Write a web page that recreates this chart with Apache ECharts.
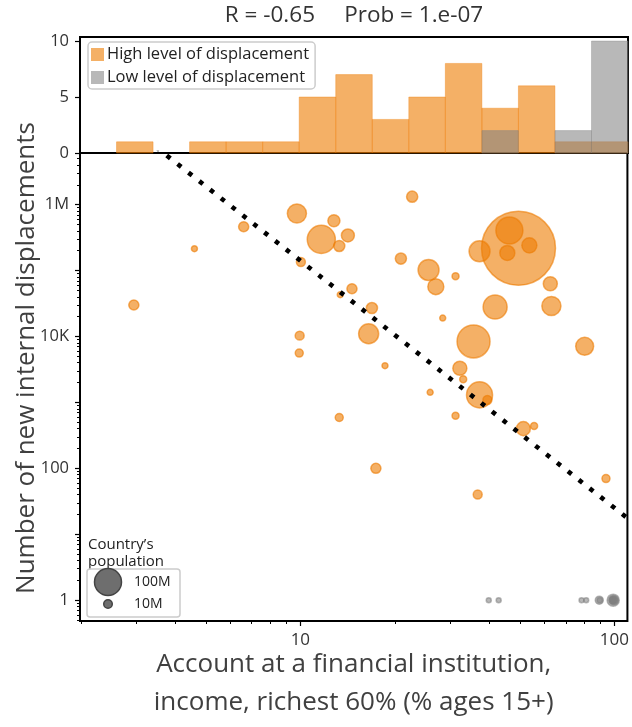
<!DOCTYPE html>
<html>
<head>
<meta charset="utf-8">
<script src="https://cdn.jsdelivr.net/npm/echarts@6/dist/echarts.min.js"></script>
<style>
html, body { margin: 0; padding: 0; background: #fff; }
#chart { width: 632px; height: 727px; }
</style>
</head>
<body>
<div id="chart"></div>
<script>
// high level of displacement: account %, new displacements, population (millions)
const highAccount = [9.75, 6.6, 11.66, 12.79, 14.17, 13.3, 4.6, 10.04, 22.7, 20.9, 25.6,
    31.2, 27.0, 37.2, 49.5, 46.3, 53.6, 45.6, 62.5, 63.0, 41.7, 14.6, 13.4, 2.95, 9.95, 9.92,
    16.9, 28.4, 16.5, 35.6, 80.4, 18.6, 32.2, 33.0, 25.9, 37.2, 39.4, 13.3, 31.2, 51.3, 55.5,
    17.4, 94.0, 36.7]
const highDisplaced = [732000, 462000, 297000, 569000, 341000, 236000, 215000, 135000, 1320000,
    152000, 102000, 82000, 57000, 196000, 218000, 406000, 241000, 185000, 63000, 29000, 28000,
    53000, 43000, 30000, 10300, 5600, 27000, 19000, 11000, 8400, 7100, 3600, 3300, 2250, 1420,
    1300, 1090, 590, 625, 400, 440, 100, 70, 40]
const highPop = [50, 14, 108, 20, 23, 17, 4.9, 11, 17, 17, 60, 6.7, 35, 60, 750, 100, 31, 31, 27,
    50, 79, 14, 4.9, 14, 11, 8.8, 17, 4.9, 55, 149, 44, 4.9, 27, 6.7, 4.9, 93, 11, 8.8, 6.7, 27,
    6.7, 14, 8.8, 11]

// low level of displacement (plotted at 1)
const lowAccount = [39.8, 42.8, 78.6, 81.3, 89.5, 89.8, 98.8, 99.1, 99.4, 99.6, 99.2, 98.9, 99.0, 99.3]
const lowDisplaced = [1, 1, 1, 1, 1, 1, 1, 1, 1, 1, 1, 1, 1, 1]
const lowPop = [3.4, 3.4, 3.4, 3.4, 8.8, 4, 6, 20, 12, 8, 5, 4, 3, 3]

// histogram counts, 15 log-spaced bins across the x range
const highCounts = [0, 1, 0, 1, 1, 1, 5, 7, 3, 5, 8, 4, 6, 1, 1]
const lowCounts = [0, 0, 0, 0, 0, 0, 0, 0, 0, 0, 0, 2, 0, 2, 10]

const xMin = 1.988
const xMax = 110
const yMin = 0.483
const yMax = 6.07e6

// log-log fit: log10(y) = fitIntercept + fitSlope * log10(x)
const fitSlope = -3.75
const fitIntercept = 8.90

const titleText = 'R = -0.65     Prob = 1.e-07'

const FONT = 'Open Sans'
const ORANGE = 'rgba(237,123,0,0.6)'
const GRAY = 'rgba(128,128,128,0.56)'

function bubbleSize(pop) {
    return 2.7 * Math.sqrt(pop)
}

let binEdges = []
let lo = Math.log10(xMin), hi = Math.log10(xMax)
for (let i = 0; i <= highCounts.length; i++) {
    binEdges.push(Math.pow(10, lo + (hi - lo) * i / highCounts.length))
}
let highBins = highCounts.map((c, i) => [binEdges[i], binEdges[i + 1], c])
let lowBins = lowCounts.map((c, i) => [binEdges[i], binEdges[i + 1], c])

let xMinor = []
let yMinor = []
for (let d = -1; d <= 6; d++) {
    for (let k = 2; k <= 9; k++) {
        let v = k * Math.pow(10, d)
        if (v >= xMin && v <= xMax) xMinor.push(v)
        if (v >= yMin && v <= yMax) yMinor.push(v)
    }
}

let fitLine = [xMin, xMax].map(x => [x, Math.pow(10, fitIntercept + fitSlope * Math.log10(x))])

function histItem(color) {
    return function (params, api) {
        if (api.value(2) <= 0) return null
        let p0 = api.coord([api.value(0), 0])
        let p1 = api.coord([api.value(1), api.value(2)])
        return {
            type: 'rect',
            shape: { x: p0[0], y: p1[1], width: p1[0] - p0[0], height: p0[1] - p1[1] },
            style: { fill: color, stroke: color, lineWidth: 0.6 }
        }
    }
}

let myChart = echarts.init(document.getElementById('chart'))

let yLabels = { 1: '1', 100: '100', 10000: '10K', 1000000: '1M' }

let option = {
    animation: false,
    textStyle: { fontFamily: FONT },
    title: {
        text: titleText,
        left: 349,
        top: -1,
        textAlign: 'center',
        textStyle: { fontSize: 22.5, fontWeight: 'normal', color: '#333', fontFamily: FONT }
    },
    legend: {
        data: [
            { name: 'High level of displacement', icon: 'rect' },
            { name: 'Low level of displacement', icon: 'rect' }
        ],
        orient: 'vertical',
        left: 88,
        top: 42,
        itemWidth: 13,
        itemHeight: 13,
        itemGap: 6,
        padding: [4, 6, 3, 3],
        selectedMode: false,
        borderColor: '#ccc',
        borderWidth: 1.5,
        borderRadius: 4,
        backgroundColor: 'rgba(255,255,255,0.8)',
        textStyle: { fontSize: 16.5, color: '#222', fontFamily: FONT, padding: [0, 0, 0, -2] }
    },
    grid: [
        { left: 80, right: 4, top: 153, bottom: 103, show: true, borderColor: '#000', borderWidth: 2, backgroundColor: 'transparent' },
        { left: 80, right: 4, top: 37, height: 116, show: true, borderColor: '#000', borderWidth: 2, backgroundColor: 'transparent' }
    ],
    xAxis: [
        {
            type: 'log', gridIndex: 0, position: 'bottom', min: xMin, max: xMax, logBase: 10,
            axisLine: { show: false },
            axisTick: { show: true, length: 5, customValues: [10, 100], lineStyle: { color: '#000', width: 1.2 } },
            axisLabel: { customValues: [10, 100], margin: 11, fontSize: 17, color: '#333', formatter: v => String(Math.round(v)) },
            splitLine: { show: false },
            name: 'Account at a financial institution,\nincome, richest 60% (% ages 15+)',
            nameLocation: 'middle',
            nameGap: 25,
            nameMoveOverlap: false,
            nameTextStyle: { fontSize: 26, color: '#404040', lineHeight: 38, fontFamily: FONT }
        },
        {
            type: 'log', gridIndex: 0, position: 'bottom', offset: 0, min: xMin, max: xMax, logBase: 10,
            axisLine: { show: false },
            axisTick: { show: true, length: 3, customValues: xMinor, lineStyle: { color: '#000', width: 1 } },
            axisLabel: { show: false },
            splitLine: { show: false }
        },
        {
            type: 'log', gridIndex: 1, position: 'bottom', min: xMin, max: xMax, logBase: 10,
            axisLine: { show: false },
            axisTick: { show: false },
            axisLabel: { show: false },
            splitLine: { show: false }
        }
    ],
    yAxis: [
        {
            type: 'log', gridIndex: 0, position: 'left', min: yMin, max: yMax, logBase: 10,
            axisLine: { show: false },
            axisTick: { show: true, length: 5, customValues: [1, 10, 100, 1e3, 1e4, 1e5, 1e6], lineStyle: { color: '#000', width: 1.2 } },
            axisLabel: {
                customValues: [1, 100, 1e4, 1e6], margin: 11, fontSize: 16.5, color: '#333',
                formatter: v => yLabels[Math.round(v)] || ''
            },
            splitLine: { show: false }
        },
        {
            type: 'log', gridIndex: 0, position: 'left', offset: 0, min: yMin, max: yMax, logBase: 10,
            axisLine: { show: false },
            axisTick: { show: true, length: 3, customValues: yMinor, lineStyle: { color: '#000', width: 1 } },
            axisLabel: { show: false },
            splitLine: { show: false }
        },
        {
            type: 'value', gridIndex: 1, position: 'left', min: 0, max: 10.36,
            axisLine: { show: false },
            axisTick: { show: true, length: 5, customValues: [0, 5, 10], lineStyle: { color: '#000', width: 1.2 } },
            axisLabel: { customValues: [0, 5, 10], margin: 11, fontSize: 16.5, color: '#333' },
            splitLine: { show: false }
        }
    ],
    graphic: [
        {
            type: 'text', x: 27, y: 358, rotation: Math.PI / 2,
            style: { text: 'Number of new internal displacements', fontSize: 26, fill: '#404040', fontFamily: FONT, align: 'center', verticalAlign: 'middle' }
        },
        {
            type: 'text', x: 88, y: 553,
            style: { text: 'Country\u2019s\npopulation', fontSize: 15, lineHeight: 17, fill: '#222', fontFamily: FONT, verticalAlign: 'middle' }
        },
        {
            type: 'rect', shape: { x: 87, y: 569, width: 93, height: 48, r: 3 },
            style: { fill: 'rgba(255,255,255,0.8)', stroke: '#ccc', lineWidth: 1.5 }
        },
        {
            type: 'circle', shape: { cx: 108, cy: 582, r: bubbleSize(100) / 2 },
            style: { fill: '#6e6e6e', stroke: '#444', lineWidth: 1.5 }
        },
        {
            type: 'circle', shape: { cx: 108, cy: 604, r: bubbleSize(10) / 2 },
            style: { fill: '#6e6e6e', stroke: '#444', lineWidth: 1.5 }
        },
        {
            type: 'text', x: 134, y: 582,
            style: { text: '100M', fontSize: 14, fill: '#222', fontFamily: FONT, verticalAlign: 'middle' }
        },
        {
            type: 'text', x: 134, y: 604,
            style: { text: '10M', fontSize: 14, fill: '#222', fontFamily: FONT, verticalAlign: 'middle' }
        }
    ],
    series: [
        {
            name: 'High level of displacement',
            type: 'custom',
            xAxisIndex: 2, yAxisIndex: 2,
            itemStyle: { color: ORANGE },
            renderItem: histItem(ORANGE),
            encode: { x: [0, 1], y: 2 },
            data: highBins
        },
        {
            name: 'Low level of displacement',
            type: 'custom',
            xAxisIndex: 2, yAxisIndex: 2,
            itemStyle: { color: GRAY },
            renderItem: histItem(GRAY),
            encode: { x: [0, 1], y: 2 },
            data: lowBins
        },
        {
            name: 'Low level of displacement',
            type: 'scatter',
            xAxisIndex: 0, yAxisIndex: 0,
            symbolSize: v => bubbleSize(v[2]),
            itemStyle: { color: GRAY, borderColor: GRAY, borderWidth: 1.5, opacity: 1 },
            data: lowAccount.map((x, i) => [x, lowDisplaced[i], lowPop[i]])
        },
        {
            name: 'High level of displacement',
            type: 'scatter',
            xAxisIndex: 0, yAxisIndex: 0,
            symbolSize: v => bubbleSize(v[2]),
            itemStyle: { color: ORANGE, borderColor: ORANGE, borderWidth: 1.5, opacity: 1 },
            data: highAccount.map((x, i) => [x, highDisplaced[i], highPop[i]])
        },
        {
            name: 'fit',
            type: 'line',
            xAxisIndex: 0, yAxisIndex: 0,
            symbol: 'none',
            clip: true,
            z: 5,
            lineStyle: { color: '#000', width: 4.6, type: [4.6, 9.2], cap: 'butt' },
            data: fitLine
        }
    ]
}

myChart.setOption(option)
</script>
</body>
</html>
